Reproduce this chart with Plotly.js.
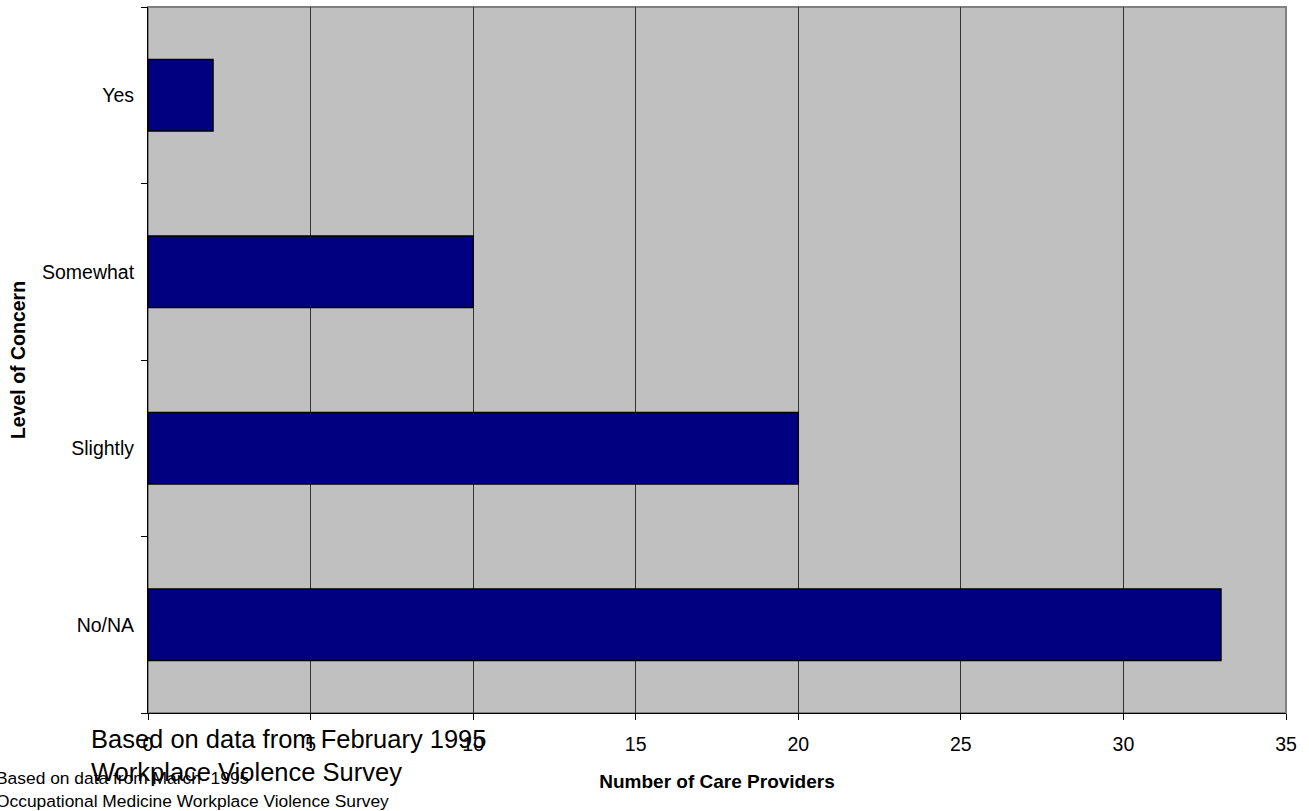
<!DOCTYPE html>
<html>
<head>
<meta charset="utf-8">
<script src="https://cdn.plot.ly/plotly-3.0.1.min.js"></script>
<style>
  html, body { margin: 0; padding: 0; background: #ffffff; }
  #chart { width: 1309px; height: 811px; }
</style>
</head>
<body>
<div id="chart"></div>
<script>
// Survey answers: level of concern and how many care providers gave each answer
const concernLevels = ["No/NA", "Slightly", "Somewhat", "Yes"];
const providerCounts = [33, 20, 10, 2];
const xTickValues = [0, 5, 10, 15, 20, 25, 30, 35];

const sourceNoteFeb = "Based on data from February 1995<br>Workplace Violence Survey";
const sourceNoteMar = "Based on data from March  1995<br>Occupational Medicine Workplace Violence Survey";

const FONT = "Arial, 'Liberation Sans', sans-serif";

const trace = {
  type: "bar",
  orientation: "h",
  y: concernLevels,
  x: providerCounts,
  width: 0.405,
  marker: { color: "#000080", line: { color: "#000000", width: 1.5 } },
  hoverinfo: "x+y"
};

const layout = {
  width: 1309,
  height: 811,
  margin: { l: 148, r: 23, t: 7, b: 98 },
  paper_bgcolor: "#ffffff",
  plot_bgcolor: "#c0c0c0",
  showlegend: false,
  bargap: 0.6,
  font: { family: FONT, size: 19, color: "#000000" },
  xaxis: {
    range: [0, 35],
    tickvals: xTickValues,
    ticktext: xTickValues.map(String),
    ticks: "outside",
    ticklen: 6,
    tickwidth: 1,
    tickcolor: "#000000",
    showgrid: true,
    gridcolor: "#333333",
    gridwidth: 1,
    zeroline: false,
    showline: true,
    linecolor: "#000000",
    linewidth: 1,
    ticklabelstandoff: 8,
    tickfont: { family: FONT, size: 19.5 },
    title: {
      text: "<b>Number of Care Providers</b>",
      font: { family: FONT, size: 19 },
      standoff: 20
    },
    fixedrange: true
  },
  yaxis: {
    type: "category",
    categoryorder: "array",
    categoryarray: concernLevels,
    range: [-0.5, 3.5],
    ticks: "outside",
    tickson: "boundaries",
    ticklen: 6,
    tickcolor: "#000000",
    showgrid: false,
    zeroline: false,
    showline: true,
    linecolor: "#000000",
    linewidth: 1,
    ticklabelstandoff: 9,
    tickfont: { family: FONT, size: 19.5 },
    title: {
      text: "<b>Level of Concern</b>",
      font: { family: FONT, size: 19.5 },
      standoff: 11
    },
    fixedrange: true
  },
  shapes: [
    {
      type: "rect", xref: "paper", yref: "paper",
      x0: 0, x1: 1, y0: 0, y1: 1,
      line: { color: "#808080", width: 2 },
      layer: "below"
    }
  ],
  annotations: [
    {
      text: sourceNoteMar,
      xref: "paper", yref: "paper",
      x: -0.135, y: -0.0745,
      xanchor: "left", yanchor: "top",
      align: "left",
      showarrow: false,
      font: { family: FONT, size: 17.4, color: "#000000" }
    },
    {
      text: sourceNoteFeb,
      xref: "paper", yref: "paper",
      x: -0.052, y: -0.0135,
      xanchor: "left", yanchor: "top",
      align: "left",
      showarrow: false,
      font: { family: FONT, size: 25.5, color: "#000000" }
    }
  ]
};

Plotly.newPlot("chart", [trace], layout, { displayModeBar: false, staticPlot: true });
</script>
</body>
</html>
